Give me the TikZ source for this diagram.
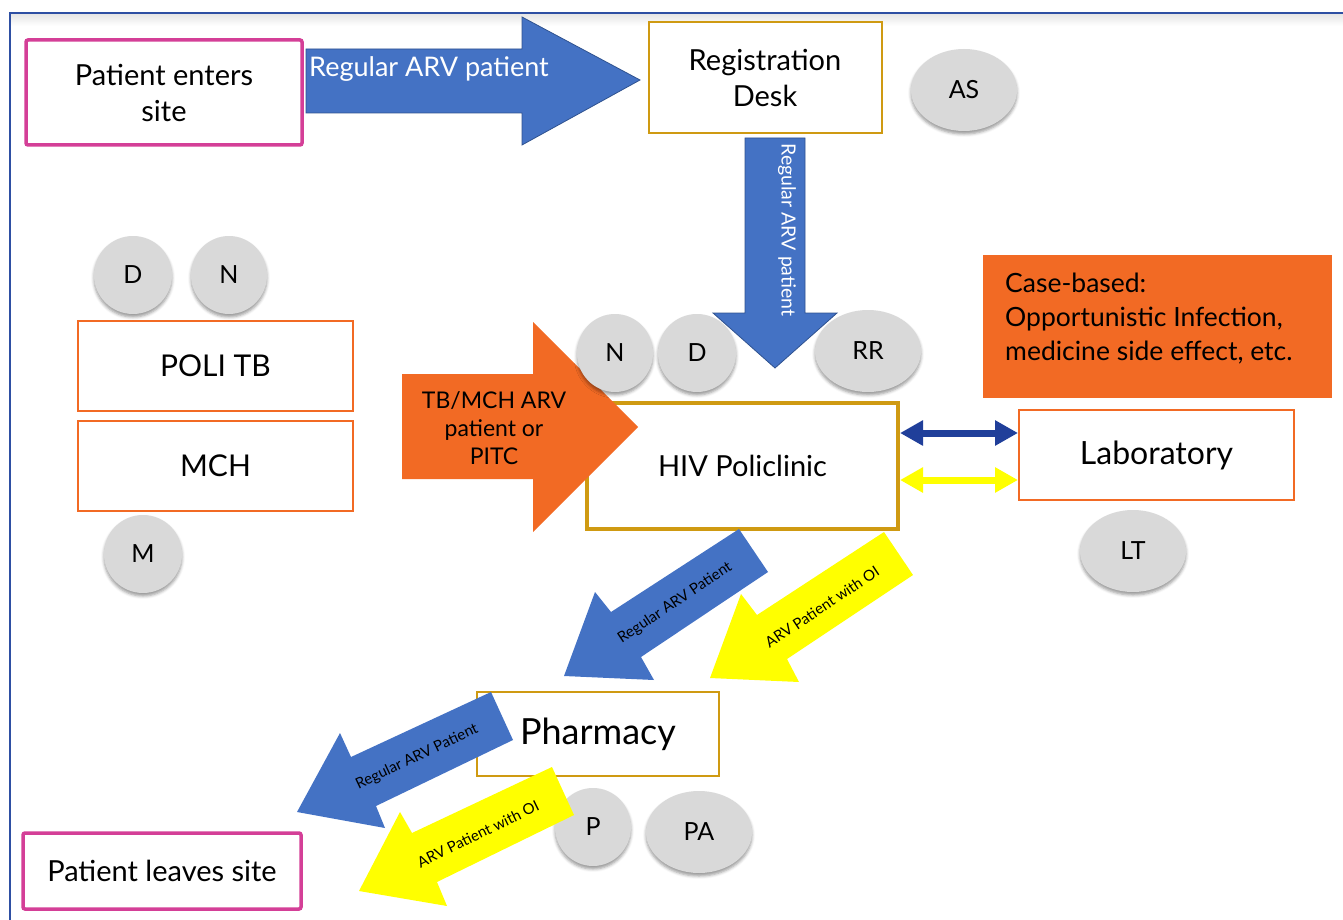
\documentclass[tikz,border=0pt]{standalone}
\usepackage{fontspec}
\setmainfont{Lato}
\usetikzlibrary{arrows.meta,shapes.geometric,shadows.blur}
\definecolor{frameblue}{HTML}{2E4FA3}
\definecolor{pinkc}{HTML}{D43F97}
\definecolor{goldc}{HTML}{CF9A12}
\definecolor{orangec}{HTML}{F26A24}
\definecolor{arrowblue}{HTML}{4472C4}
\definecolor{arrowline}{HTML}{2F528F}
\definecolor{dblue}{HTML}{203F9A}
\definecolor{staffgray}{HTML}{D9D9D9}
\definecolor{yel}{HTML}{FFFF00}
\newcommand\myfs[2]{\fontsize{#1}{#2}\selectfont}
\begin{document}
\begin{tikzpicture}[x=1pt,y=-1pt,
  box/.style={draw, fill=white, inner sep=0pt, align=center},
  staff/.style={ellipse, fill=staffgray, inner sep=0pt,
    blur shadow={shadow xshift=0pt, shadow yshift=-3pt, shadow blur radius=3pt, shadow opacity=40},
    font=\myfs{25}{30}},
  blockblue/.style={fill=arrowblue, draw=arrowline, line width=0.8pt, line join=miter},
  blockblueplain/.style={fill=arrowblue},
  blockyel/.style={fill=yel},
  blockorange/.style={fill=orangec},
  smalltxt/.style={font=\myfs{15}{18}, inner sep=0pt},
  dbl/.style={line width=7pt, {Triangle[length=23pt,width=24pt]}-{Triangle[length=23pt,width=24pt]}}
]
\useasboundingbox (0,0) rectangle (1343,920);
% frame
\shade[top color=black!10, bottom color=white] (11,14) rectangle (1343,26);
\draw[frameblue, line width=2pt] (10,13) rectangle (1420,990);

% boxes
\node[box, draw=pinkc, line width=3.5pt, rounded corners=2pt, minimum width=276pt, minimum height=105pt, font=\myfs{29}{36}] (enter) at (164,92.5) {Patient enters\\site};
\node[box, draw=goldc, line width=2pt, minimum width=233pt, minimum height=111pt, font=\myfs{29}{36}] (reg) at (765,77.5) {Registration\\Desk};
\node[box, draw=goldc, line width=4pt, minimum width=311pt, minimum height=126pt, font=\myfs{29}{36}] (hiv) at (742.5,466) {HIV Policlinic};
\node[box, draw=orangec, line width=2pt, minimum width=275pt, minimum height=90pt, font=\myfs{32}{38}] (lab) at (1156.5,455) {Laboratory};
\node[fill=orangec, inner sep=0pt, minimum width=349pt, minimum height=143pt] (case) at (1157.5,326.5) {};
\node[anchor=west, align=left, inner sep=0pt, font=\myfs{26.5}{34}] (casetxt) at (1005,319) {Case-based:\\Opportunistic Infection,\\medicine side effect, etc.};
\node[box, draw=orangec, line width=2pt, minimum width=275pt, minimum height=90pt, font=\myfs{30}{36}] (politb) at (215.5,366) {POLI TB};
\node[box, draw=orangec, line width=2pt, minimum width=275pt, minimum height=90pt, font=\myfs{30}{36}] (mch) at (215.5,466) {MCH};
\node[box, draw=goldc, line width=2pt, minimum width=242pt, minimum height=84pt, font=\myfs{36}{42}] (pharm) at (598,734) {Pharmacy};
\node[box, draw=pinkc, line width=3.5pt, rounded corners=2pt, minimum width=278pt, minimum height=76pt, font=\myfs{29}{36}] (leave) at (162,871) {Patient leaves site};

% staff ellipses under arrows
\node[staff, minimum width=106pt, minimum height=82pt] (as) at (964,90) {AS};
\node[staff, minimum width=106pt, minimum height=82pt] (lt) at (1133,551) {LT};
\node[staff, minimum width=78pt, minimum height=78pt] (dl) at (133,275) {D};
\node[staff, minimum width=76pt, minimum height=78pt] (nl) at (229,275) {N};
\node[staff, minimum width=78pt, minimum height=78pt] (m) at (143,554) {M};
\node[staff, minimum width=76pt, minimum height=78pt] (p) at (593,827) {P};
\node[staff, minimum width=106pt, minimum height=82pt] (pa) at (699,832) {PA};

% block arrow: enter -> registration
\draw[blockblue] (306,49) -- (522,49) -- (522,17) -- (640,80) -- (522,145) -- (522,113) -- (306,113) -- cycle;
\node[anchor=base west, inner sep=0pt, text=white, font=\myfs{27}{32}] (t1) at (309,77) {Regular ARV patient};

% block arrow: registration -> HIV
\draw[blockblue] (745,138) -- (805,138) -- (805,313) -- (837,313) -- (775,368) -- (713,313) -- (745,313) -- cycle;
\node[rotate=-90, inner sep=0pt, text=white, font=\myfs{19.5}{23}] (t2) at (787,230) {Regular ARV patient};

% orange block arrow
\fill[blockorange] (402,374) -- (533,374) -- (533,322) -- (638,427) -- (533,532) -- (533,479) -- (402,479) -- cycle;
\node[align=center, inner sep=0pt, font=\myfs{23}{28}] (t3) at (494,428) {TB/MCH ARV\\patient or\\PITC};

% HIV -> Pharmacy
\fill[blockblueplain] (739,529) -- (768,572) -- (641,657) -- (654,680) -- (564,676) -- (595,592) -- (611,612) -- cycle;
\node[smalltxt, rotate=33.7] (t4) at (675,603) {Regular ARV Patient};
\fill[blockyel] (884,532) -- (913,575) -- (787,659) -- (799,682) -- (710,678) -- (741,594) -- (757,615) -- cycle;
\node[smalltxt, rotate=33.6] (t5) at (822,607) {ARV Patient with OI};

% Pharmacy -> leave
\fill[blockblueplain] (491,692) -- (513,740) -- (376,806) -- (385,828) -- (297,812) -- (340,733) -- (351,757) -- cycle;
\node[smalltxt, rotate=25.5] (t6) at (417,757) {Regular ARV Patient};
\fill[blockyel] (552,767) -- (574,815) -- (437,882) -- (447,906) -- (359,891) -- (400,812) -- (412,833) -- cycle;
\node[smalltxt, rotate=26] (t7) at (478,834) {ARV Patient with OI};

% staff ellipses on top of arrows
\node[staff, minimum width=76pt, minimum height=78pt] (nh) at (615,353) {N};
\node[staff, minimum width=78pt, minimum height=78pt] (dh) at (697,353) {D};
\node[staff, minimum width=106pt, minimum height=82pt] (rr) at (868,351) {RR};

% HIV <-> Laboratory
\coordinate (yb) at (0,433);
\coordinate (yy) at (0,480);
\draw[dbl, dblue] (hiv.east |- yb) -- (lab.west |- yb);
\draw[dbl, yel] (hiv.east |- yy) -- (lab.west |- yy);
\end{tikzpicture}
\end{document}
